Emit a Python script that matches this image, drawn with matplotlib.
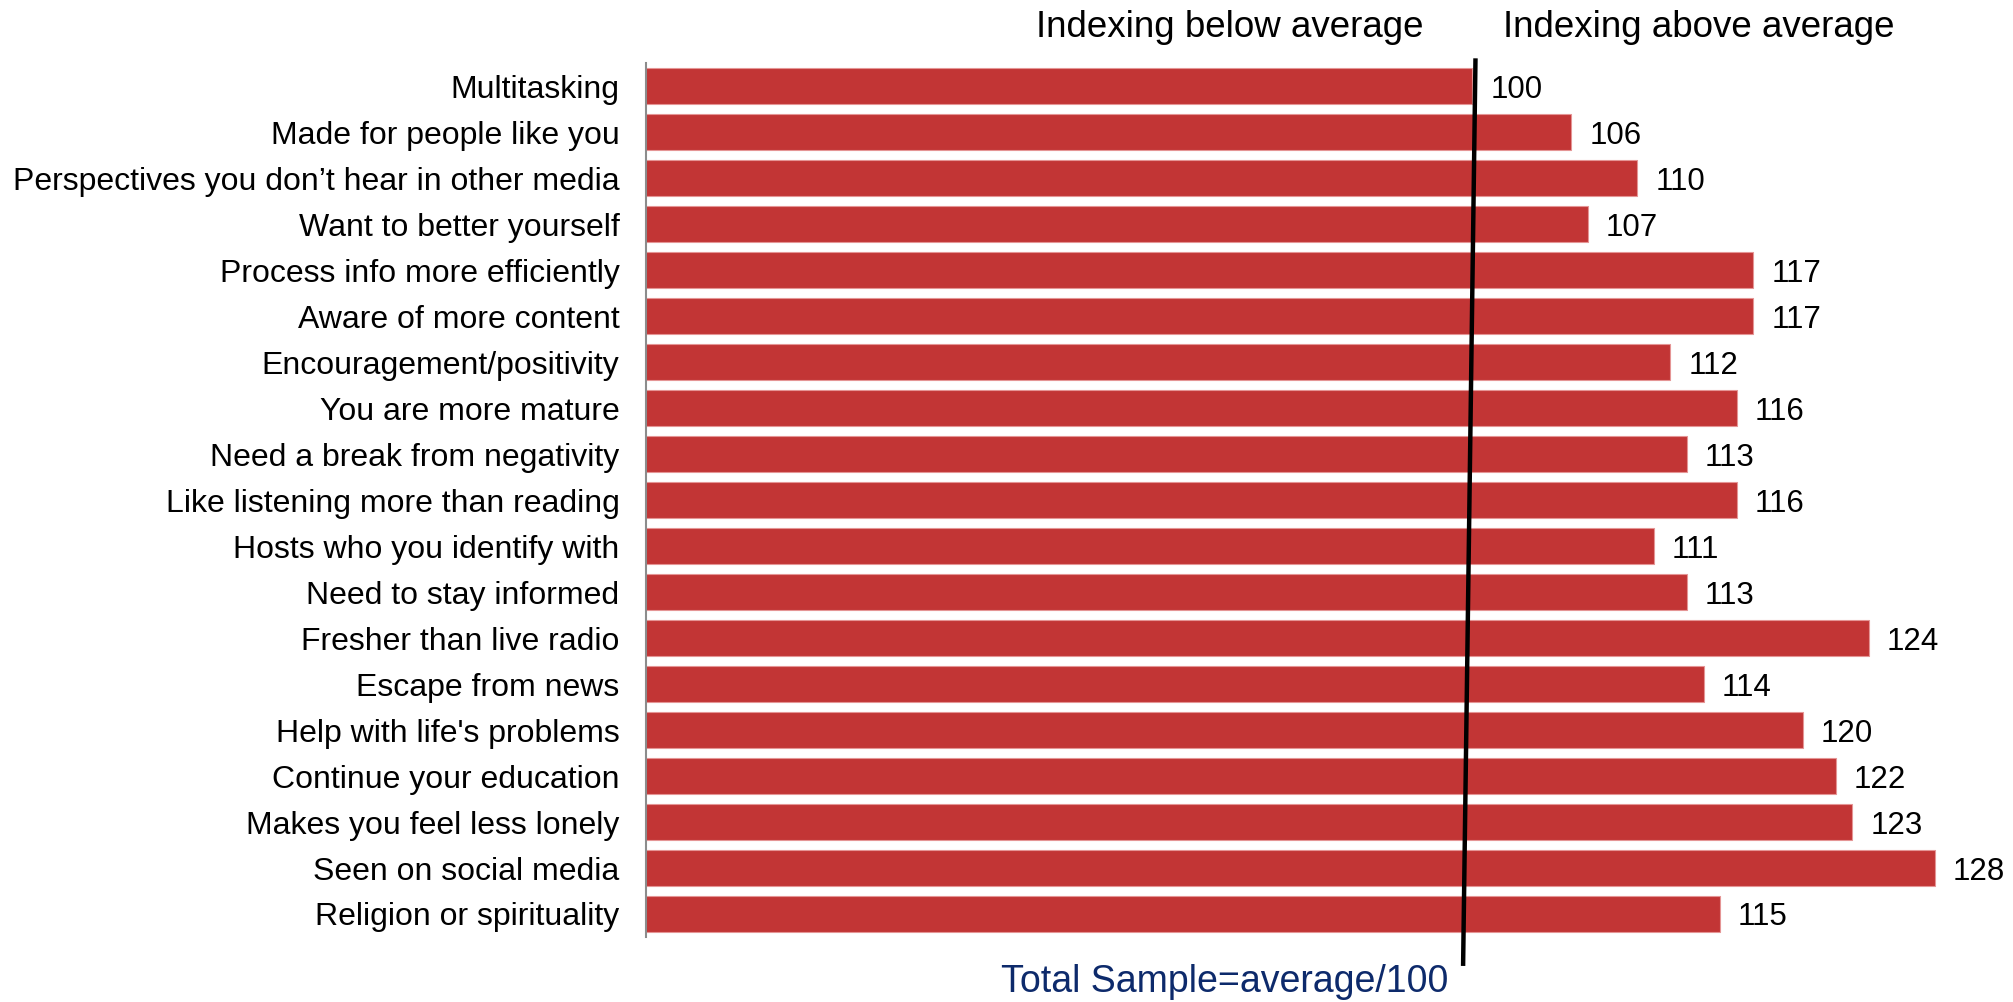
import matplotlib
matplotlib.use("Agg")
import matplotlib.pyplot as plt

plt.rcParams['font.family'] = ['Liberation Sans', 'DejaVu Sans']

# data (top to bottom)
categories = ["Multitasking", "Made for people like you",
              "Perspectives you don\u2019t hear in other media",
              "Want to better yourself", "Process info more efficiently",
              "Aware of more content", "Encouragement/positivity",
              "You are more mature", "Need a break from negativity",
              "Like listening more than reading", "Hosts who you identify with",
              "Need to stay informed", "Fresher than live radio",
              "Escape from news", "Help with life's problems",
              "Continue your education", "Makes you feel less lonely",
              "Seen on social media", "Religion or spirituality"]
index_values = [100, 106, 110, 107, 117, 117, 112, 116, 113, 116,
                111, 113, 124, 114, 120, 122, 123, 128, 115]
average = 100

bar_color = "#C23535"

fig = plt.figure(figsize=(20.13, 10.02), dpi=100)
ax = fig.add_axes([0.3209, 0.0649, 0.6567, 0.8723])

y = list(range(len(categories)))
ax.barh(y, index_values, height=0.78, color=bar_color,
        edgecolor="#E59595", linewidth=0.8)

for yi, v in zip(y, index_values):
    ax.annotate(str(v), (v, yi), xytext=(13, 0), textcoords="offset points",
                va="center_baseline", ha="left", fontsize=22.5,
                annotation_clip=False)

ax.set_xlim(50, 130)
ax.set_ylim(18.5, -0.51)
ax.set_yticks(y)
ax.set_yticklabels(categories, fontsize=23)
ax.tick_params(axis="y", length=0, pad=19)
ax.set_xticks([])
for s in ["top", "right", "bottom"]:
    ax.spines[s].set_visible(False)
ax.spines["left"].set_color("#8C8C8C")
ax.spines["left"].set_linewidth(1.5)

# slightly tilted average line, as in the original
ax.plot([average + 0.2, average - 0.55], [-0.61, 19.13], color="black",
        lw=3.2, clip_on=False, solid_capstyle="butt")

fig.text(1230 / 2013, 1 - 37 / 1002, "Indexing below average", ha="center",
         va="baseline", fontsize=26.5)
fig.text(1699 / 2013, 1 - 37 / 1002, "Indexing above average", ha="center",
         va="baseline", fontsize=26.5)
fig.text(1225 / 2013, 1 - 992 / 1002, "Total Sample=average/100", ha="center",
         va="baseline", fontsize=27, color="#0D2A6B")

fig.savefig("out.png", dpi=100)
